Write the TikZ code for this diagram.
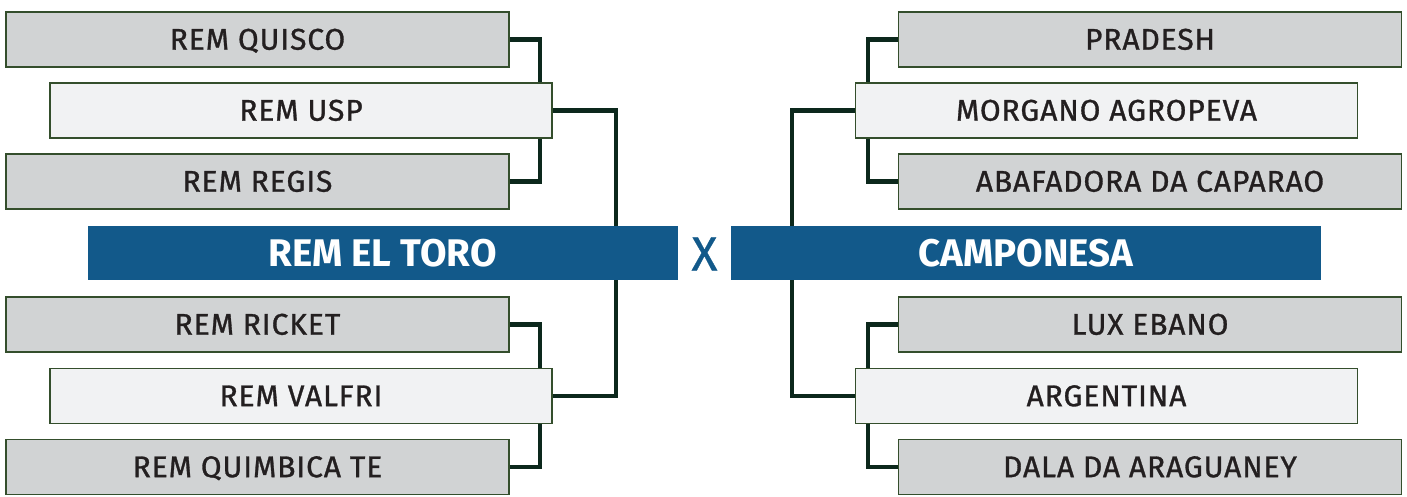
\documentclass[tikz,border=0pt]{standalone}
\usepackage{fontspec}
\setmainfont{Fira Sans}
\newfontfamily\teamfont{Fira Sans}[FakeBold=1.0,LetterSpace=3]
\newfontfamily\vsfont{Fira Sans}[FakeBold=0.7]
\definecolor{grayfill}{RGB}{209,211,212}
\definecolor{lightfill}{RGB}{241,242,243}
\definecolor{boxline}{RGB}{52,78,44}
\definecolor{connline}{RGB}{12,40,28}
\definecolor{barblue}{RGB}{18,89,138}
\definecolor{txt}{RGB}{35,31,32}
\begin{document}
\begin{tikzpicture}[x=1pt,y=-1pt,
  teambox/.style={draw=boxline,line width=1.6pt,minimum height=55pt,inner sep=0pt,
    text=txt,font=\teamfont\fontsize{30}{32}\selectfont,text height=20.4pt,text depth=0pt},
  grayteam/.style={teambox,fill=grayfill,minimum width=503pt},
  lightteam/.style={teambox,fill=lightfill,minimum width=502pt},
  finalbar/.style={fill=barblue,minimum height=54pt,minimum width=590pt,inner sep=0pt,
    text=white,font=\fontsize{38.5}{40}\selectfont\bfseries,text height=26.5pt,text depth=0pt},
  versus/.style={text=barblue,font=\vsfont\fontsize{48}{48}\selectfont,inner sep=0pt,text height=33pt,text depth=0pt},
  conn/.style={draw=connline,line width=4.4pt,line join=miter}
]
\useasboundingbox (0,0) rectangle (1407,496);
\coordinate (li) at (540,0);
\coordinate (lo) at (616,0);
\coordinate (ri) at (868,0);
\coordinate (ro) at (792,0);
% bars
\node[finalbar] (toro) at (382.5,253) {REM EL TORO};
\node[finalbar] (camp) at (1026,253) {CAMPONESA};
\node[versus] (vs) at (704.5,254) {X};
% team boxes
\node[grayteam] (quisco) at (257.5,39.5) {REM QUISCO};
\node[lightteam] (usp) at (301,110.5) {REM USP};
\node[grayteam] (regis) at (257.5,181.5) {REM REGIS};
\node[grayteam] (ricket) at (257.5,324.5) {REM RICKET};
\node[lightteam] (valfri) at (301,396) {REM VALFRI};
\node[grayteam] (quimbica) at (257.5,467) {REM QUIMBICA TE};
\node[grayteam] (pradesh) at (1150,39.5) {PRADESH};
\node[lightteam] (morgano) at (1106.5,110.5) {MORGANO AGROPEVA};
\node[grayteam] (abafadora) at (1150,181.5) {ABAFADORA DA CAPARAO};
\node[grayteam] (lux) at (1150,324.5) {LUX EBANO};
\node[lightteam] (argentina) at (1106.5,396) {ARGENTINA};
\node[grayteam] (dala) at (1150,467) {DALA DA ARAGUANEY};
% connectors
\draw[conn] (quisco.east) -| (usp.north -| li);
\draw[conn] (regis.east) -| (usp.south -| li);
\draw[conn] (ricket.east) -| (valfri.north -| li);
\draw[conn] (quimbica.east) -| (valfri.south -| li);
\draw[conn] (usp.east) -| (toro.north -| lo);
\draw[conn] (valfri.east) -| (toro.south -| lo);
\draw[conn] (pradesh.west) -| (morgano.north -| ri);
\draw[conn] (abafadora.west) -| (morgano.south -| ri);
\draw[conn] (lux.west) -| (argentina.north -| ri);
\draw[conn] (dala.west) -| (argentina.south -| ri);
\draw[conn] (morgano.west) -| (camp.north -| ro);
\draw[conn] (argentina.west) -| (camp.south -| ro);
\end{tikzpicture}
\end{document}
